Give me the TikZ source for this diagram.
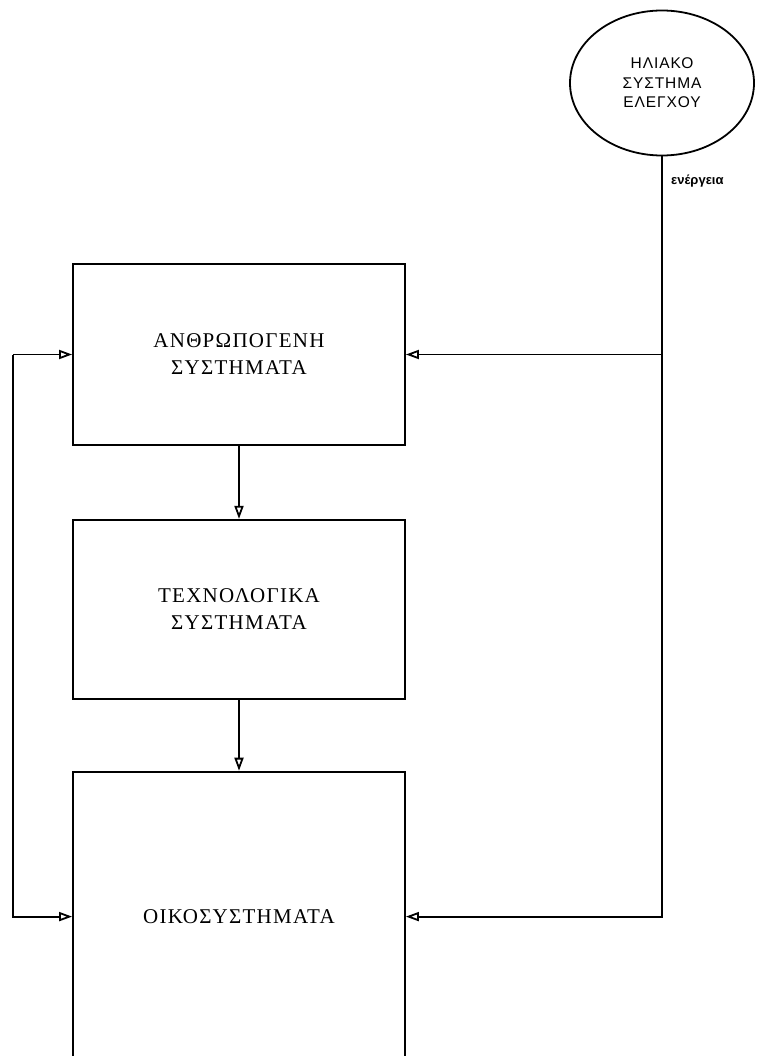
\documentclass[tikz,border=0pt]{standalone}
\usepackage{fontspec}
\setmainfont{Liberation Serif}
\newfontfamily\sunfont{Liberation Sans}
\usetikzlibrary{positioning, arrows.meta, shapes.geometric}
\tikzset{
  sysbox/.style={
    rectangle, draw, line width=1.8pt,
    minimum width=332pt,
    align=center,
    font=\fontsize{21}{27}\selectfont\addfontfeature{LetterSpace=6}
  },
  sun/.style={ % the ellipse on top right
    ellipse, draw, line width=1.8pt,
    minimum width=184pt, minimum height=145pt,
    align=center,
    font=\sunfont\fontsize{15.5}{19.5}\selectfont\addfontfeature{LetterSpace=6}
  },
  conn/.style={ % style for the connections
    -{Triangle[open, length=13pt, width=9pt]}, % hollow arrow tip
    line width=1.8pt,
  },
}

\begin{document}
\begin{tikzpicture}[x=1pt,y=1pt]
		\clip (0,0) rectangle (764,-1056);
		% sun
		\node[sun] (sun) at (662,-83) {ΗΛΙΑΚΟ\\ΣΥΣΤΗΜΑ\\ΕΛΕΓΧΟΥ};
		\node[anchor=north west, inner sep=0pt, font=\sunfont\bfseries\fontsize{13}{15}\selectfont] (energy) at ([xshift=9pt,yshift=-18pt]sun.south) {ενέργεια};
		% systems
		\node[sysbox, minimum height=181pt] (anthro) at (239,-354.5) {ΑΝΘΡΩΠΟΓΕΝΗ\\ΣΥΣΤΗΜΑΤΑ};
		\node[sysbox, minimum height=179pt, below=73pt of anthro] (techno) {ΤΕΧΝΟΛΟΓΙΚΑ\\ΣΥΣΤΗΜΑΤΑ};
		\node[sysbox, minimum height=290pt, below=71pt of techno] (eco) {ΟΙΚΟΣΥΣΤΗΜΑΤΑ};
		\draw[conn] (anthro) -- (techno);
		\draw[conn] (techno) -- (eco);
		% energy feed
		\coordinate (tap) at (sun.south |- anthro.east);
		\draw[conn] (sun.south) |- (eco.east);
		\draw[conn] (tap) -- (anthro.east);
		% left loop
		\coordinate (loop) at (13,0);
		\draw[conn] (anthro.west -| loop) -- (anthro.west);
		\draw[conn] (anthro.west -| loop) |- (eco.west);
	\end{tikzpicture}
\end{document}
